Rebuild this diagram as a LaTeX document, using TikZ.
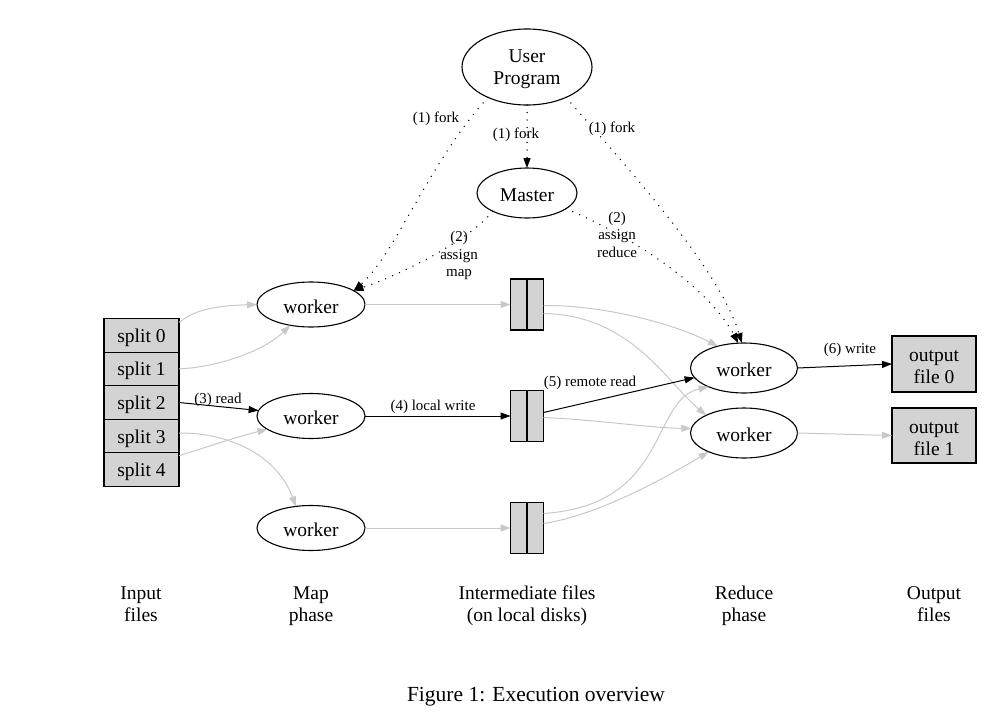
\documentclass[tikz,border=0pt]{standalone}
\usepackage{fontspec}
\setmainfont{Liberation Serif}
\usetikzlibrary{arrows.meta,shapes.geometric}
\definecolor{edgegray}{RGB}{200,200,200}
\definecolor{boxgray}{RGB}{211,211,211}
\newcommand{\toprule}{\rule{0pt}{18pt}}
\begin{document}
\begin{tikzpicture}[x=1pt,y=-1pt,
  every node/.style={inner sep=0pt, outer sep=0pt, align=center},
  bigtxt/.style={font=\fontsize{19.5}{22}\selectfont},
  shapetxt/.style={bigtxt, execute at begin node={\toprule}},
  lbl/.style={font=\fontsize{15}{17.5}\selectfont},
  ell/.style={draw, ellipse, line width=1.1pt, shapetxt},
  splitbox/.style={draw, rectangle, fill=boxgray, line width=1.1pt, minimum width=75pt, minimum height=33.6pt, shapetxt},
  filebox/.style={draw, rectangle, fill=boxgray, line width=1.1pt, minimum width=33pt, minimum height=51pt},
  outbox/.style={draw, rectangle, fill=boxgray, line width=1.1pt, minimum width=84pt, minimum height=56pt, bigtxt},
  arrowtip/.style={-{Triangle[length=10pt,width=7pt]}},
  gedge/.style={draw=edgegray, line width=1pt, arrowtip},
  bedge/.style={draw=black, line width=1pt, arrowtip},
  dedge/.style={draw=black, line width=1.5pt, line cap=round, dash pattern=on 0pt off 7.5pt, arrowtip},
]
\useasboundingbox (0,0) rectangle (1002,720);

% nodes
\node[draw, ellipse, line width=1.1pt, bigtxt, minimum width=130pt, minimum height=76pt] (up) at (527,67) {\toprule User\\Program};
\node[ell, minimum width=100pt, minimum height=50pt] (master) at (527,193) {Master};
\node[ell, minimum width=108pt, minimum height=45pt] (m1) at (311,304.5) {worker};
\node[ell, minimum width=108pt, minimum height=45pt] (m2) at (311,416) {worker};
\node[ell, minimum width=108pt, minimum height=45pt] (m3) at (311,528) {worker};
\node[ell, minimum width=107pt, minimum height=50pt] (r1) at (744,368) {worker};
\node[ell, minimum width=107pt, minimum height=50pt] (r2) at (744,433) {worker};

\node[splitbox] (s0) at (141.5,335.3) {split 0};
\node[splitbox] (s1) at (141.5,368.9) {split 1};
\node[splitbox] (s2) at (141.5,402.5) {split 2};
\node[splitbox] (s3) at (141.5,436.1) {split 3};
\node[splitbox] (s4) at (141.5,469.7) {split 4};

\node[filebox] (f1) at (527,304.5) {};
\node[filebox] (f2) at (527,416) {};
\node[filebox] (f3) at (527,528) {};
\draw[line width=1.1pt] (f1.north) -- (f1.south);
\draw[line width=1.1pt] (f2.north) -- (f2.south);
\draw[line width=1.1pt] (f3.north) -- (f3.south);

\node[outbox] (o0) at (934,364) {\toprule output\\file 0};
\node[outbox, minimum height=55pt] (o1) at (934,435.5) {\toprule output\\file 1};

% dotted control edges
\draw[dedge] (up.-142) .. controls (430,160) and (395,255) .. (m1.18);
\draw[dedge] (up.south) -- (master.north);
\draw[dedge] (up.-38) .. controls (630,170) and (720,270) .. (r1.95);
\draw[dedge] (master.-152) .. controls (470,240) and (400,275) .. (m1.18);
\draw[dedge] (master.-22) .. controls (640,240) and (710,290) .. (r1.103);

\node[lbl] (l1a) at (436,118.5) {(1) fork};
\node[lbl] (l1b) at (516,134.5) {(1) fork};
\node[lbl] (l1c) at (612,128.5) {(1) fork};
\node[lbl] (l2a) at (459,255.5) {(2)\\assign\\map};
\node[lbl] (l2b) at (617,234.5) {(2)\\assign\\reduce};

% input reads
\draw[gedge] ([yshift=13pt]s0.east) .. controls (192,313) and (205,306) .. (m1.west);
\draw[gedge] (s1.east) .. controls (220,367) and (265,350) .. (m1.-135);
\draw[bedge] (s2.east) -- (m2.174);
\draw[gedge] ([yshift=3pt]s3.east) .. controls (220,432) and (275,450) .. (m3.125);
\draw[gedge] ([yshift=14pt]s4.east) .. controls (210,446) and (240,436) .. (m2.197);
\node[lbl] (l3) at (218,399.5) {(3) read};

% local writes
\draw[gedge] (m1.east) -- (f1.west);
\draw[bedge] (m2.east) -- (f2.west);
\draw[gedge] (m3.east) -- (f3.west);
\node[lbl] (l4) at (433,406.5) {(4) local write};

% remote reads
\draw[gedge] ([yshift=-1pt]f1.east) .. controls (600,305) and (670,322) .. (r1.140);
\draw[gedge] ([yshift=-9pt]f1.east) .. controls (630,315) and (665,380) .. (r2.155);
\draw[bedge] ([yshift=3.5pt]f2.east) -- (r1.191);
\draw[gedge] ([yshift=-1.5pt]f2.east) .. controls (600,420) and (650,428) .. (r2.175);
\draw[gedge] ([yshift=14.5pt]f3.east) .. controls (670,505) and (650,400) .. (r1.208);
\draw[gedge] ([yshift=4.5pt]f3.east) .. controls (600,515) and (670,475) .. (r2.208);
\node[lbl] (l5) at (590,382.5) {(5) remote read};

% writes
\draw[bedge] (r1.east) -- (o0.west);
\draw[gedge] (r2.east) -- (o1.west);
\node[lbl] (l6) at (850,349.5) {(6) write};

% bottom labels
\node[bigtxt] (t1) at (141,606) {\strut Input\\files\strut};
\node[bigtxt] (t2) at (311,606) {\strut Map\\phase\strut};
\node[bigtxt] (t3) at (527,606) {\strut Intermediate files\\(on local disks)\strut};
\node[bigtxt] (t4) at (744,606) {\strut Reduce\\phase\strut};
\node[bigtxt] (t5) at (934,606) {\strut Output\\files\strut};

\node[font=\fontsize{21.5}{24}\selectfont] (cap) at (536,696.5) {Figure 1: Execution overview};
\end{tikzpicture}
\end{document}
